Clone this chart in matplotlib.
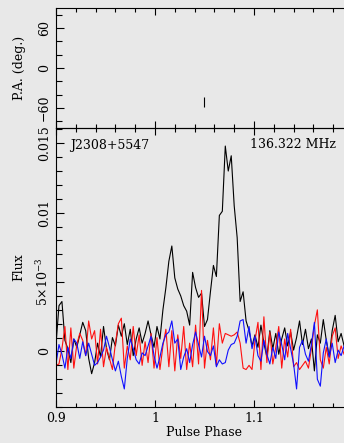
import numpy as np
import matplotlib
matplotlib.use("Agg")
from matplotlib import pyplot as plt
from matplotlib.ticker import MultipleLocator, FixedLocator, FixedFormatter

# pulse profile, 0.003 phase per bin starting at phase 0.9, flux in units of 1e-3
phase_start = 0.9
bin_width = 0.003

total = [0.5, 3.3, 3.6, 0.8, 0.2, -0.8, 0.9, 0.3, 1.2, 2.1,
         1.5, -0.5, -1.6, -0.8, 0.6, -0.4, 1.8, 0.2, -0.6, 1.0,
         0.4, 1.9, 1.1, 2.0, 0.5, 1.6, -0.3, 0.9, 1.7, 0.6,
         1.3, 2.2, 1.2, 0.3, 1.8, 0.9, 3.0, 4.6, 6.5, 7.6,
         5.3, 4.5, 4.0, 3.3, 2.9, 1.9, 5.7, 4.6, 3.9, 4.2,
         1.8, 2.3, 4.3, 6.2, 5.4, 9.8, 10.1, 14.8, 13.0, 14.1,
         10.5, 8.2, 3.6, 4.3, 2.2, 1.5, 0.4, 1.2, 0.3, 1.9,
         0.6, -0.4, 1.5, 0.2, 1.3, -0.2, 0.9, 1.7, 0.4, 1.4,
         0.1, 1.0, 2.2, 0.5, 1.6, 0.2, 0.9, -1.4, 1.2, 0.6,
         2.3, 0.8, -0.4, 1.5, 2.6, 0.7, 1.3, 0.4]

linear = [-1.0, -0.9, 0.2, 1.8, -1.3, 1.7, -1.2, 0.5, 1.3, 0.8,
          -0.3, 2.2, 0.9, 1.5, -0.9, 1.6, -1.1, 0.3, -0.5, -1.3,
          0.6, 2.0, 2.4, -1.2, 0.4, -0.6, 1.8, -0.3, 1.2, -1.0,
          0.7, -0.8, 1.3, -1.2, 1.0, -1.3, 0.4, 1.6, -1.1, 1.5,
          -1.4, 1.2, -0.5, 1.8, -1.3, 0.6, -1.1, 1.9, -0.9, 4.4,
          -1.2, 0.8, -0.6, 1.7, -1.0, 2.0, 0.6, 1.3, 1.2, 1.1,
          1.2, 1.4, 0.6, -1.2, -1.3, -1.0, -1.3, 0.8, 2.1, -1.3,
          2.5, -0.8, 1.4, -0.9, 0.3, 1.8, -1.2, 0.9, -0.4, 1.6,
          -1.1, -0.8, -1.3, -1.0, -0.7, -1.2, 0.2, 1.9, 3.0, -0.6,
          -1.2, 0.3, -0.9, 1.1, 1.7, -0.5, 0.4, -0.2]

circular = [-0.9, 0.5, -0.2, -1.2, 0.3, -0.5, 0.9, 0.6, -0.5, 0.7,
            -0.3, 0.6, -0.2, -1.0, -0.8, -0.4, 0.1, 1.1, 0.3, -0.6,
            -1.4, -0.7, -1.8, -2.7, -0.5, 0.9, 0.2, -0.6, -0.9, -0.1,
            -0.3, 0.4, 1.1, -0.3, -1.2, -0.4, 0.6, 1.2, 1.4, 2.2,
            0.6, 0.9, -1.3, -0.4, 0.2, -0.8, 0.5, 1.4, 0.5, -0.4,
            1.1, 0.0, -0.3, 0.4, -1.1, -0.6, -0.9, -0.8, 0.1, 0.5,
            0.6, 1.1, 2.2, 2.3, 0.6, 1.8, 0.2, 1.1, -0.3, -0.7,
            0.8, -0.2, -0.9, 0.3, -0.5, 1.4, 0.5, -0.6, 1.3, 0.2,
            -0.9, -2.7, 0.3, 0.8, -0.2, -0.7, 0.5, 2.1, -2.0, -2.5,
            -0.1, 0.9, -0.4, 0.6, -0.8, 0.1, -0.3, 0.4]

# position angle measurements
pa_phase = [1.0495]
pa_deg = [-51.0]
pa_err = [7.0]

x_ticks = [0.9, 1.0, 1.1]
x_ticklabels = ['0.9', '1', '1.1']
flux_ticks = [0, 0.005, 0.01, 0.015]
flux_ticklabels = ['0', r'5$\times$10$^{-3}$', '0.01', '0.015']

psr_name = "J2308+5547"
freq_label = "136.322 MHz"

plt.rcParams['font.family'] = ['DejaVu Serif']
plt.rcParams['mathtext.fontset'] = 'dejavuserif'
plt.rcParams['font.size'] = 9


def style_axes(ax):
    ax.set_facecolor('none')
    ax.spines['right'].set_visible(False)
    ax.tick_params(which='both', direction='in', top=True, right=False,
                   width=0.8, color='k')
    ax.tick_params(which='major', length=5)
    ax.tick_params(which='minor', length=3)
    ax.tick_params(axis='y', which='major', length=6)
    ax.tick_params(axis='y', which='minor', length=4)
    ax.tick_params(axis='y', labelrotation=90)
    ax.xaxis.set_major_locator(MultipleLocator(0.1))
    ax.xaxis.set_minor_locator(MultipleLocator(0.02))


def draw():
    fig = plt.figure(figsize=(3.44, 4.43), dpi=100)
    fig.patch.set_facecolor('#e8e8e8')

    ax_pa = fig.add_axes([56/344, 1 - 128/443, 297/344, 120/443])
    ax_fl = fig.add_axes([56/344, 1 - 407/443, 297/344, 279/443])

    x = phase_start + bin_width * np.arange(len(total))
    scale = 1e-3
    ax_fl.plot(x, np.array(total) * scale, color='k', lw=0.8)
    ax_fl.plot(x, np.array(linear) * scale, color='#ff1010', lw=0.8)
    ax_fl.plot(x, np.array(circular) * scale, color='#1010ff', lw=0.8)

    ax_pa.errorbar(pa_phase, pa_deg, yerr=pa_err, fmt='none', ecolor='k',
                   elinewidth=0.8, capsize=0)

    for ax in (ax_pa, ax_fl):
        ax.set_xlim(0.9, 1.2)
        style_axes(ax)

    ax_pa.set_ylim(-90, 90)
    ax_pa.yaxis.set_major_locator(MultipleLocator(60))
    ax_pa.yaxis.set_minor_locator(MultipleLocator(20))
    ax_pa.tick_params(axis='x', labelbottom=False)
    ax_pa.set_ylabel("P.A. (deg.)")
    ax_pa.yaxis.set_label_coords(-(56 - 26) / 297, 0.5)

    ax_fl.set_ylim(-0.004, 0.0161)
    ax_fl.yaxis.set_major_locator(FixedLocator(flux_ticks))
    ax_fl.yaxis.set_major_formatter(FixedFormatter(flux_ticklabels))
    ax_fl.yaxis.set_minor_locator(MultipleLocator(0.001))
    ax_fl.xaxis.set_major_locator(FixedLocator(x_ticks + [1.2]))
    ax_fl.xaxis.set_major_formatter(FixedFormatter(x_ticklabels + ['']))
    ax_fl.set_ylabel("Flux")
    ax_fl.yaxis.set_label_coords(-(56 - 25) / 297, 0.5)
    ax_fl.set_xlabel("Pulse Phase", labelpad=1)
    for t in ax_fl.get_yticklabels() + ax_pa.get_yticklabels():
        t.set_va('center')

    ax_fl.text(70/344, 1 - 145/443, psr_name, transform=fig.transFigure,
               va='center', ha='left')
    ax_fl.text(336/344, 1 - 145/443, freq_label, transform=fig.transFigure,
               va='center', ha='right')

    fig.savefig("out.png", dpi=100, facecolor=fig.get_facecolor())


if __name__ == "__main__":
    draw()
